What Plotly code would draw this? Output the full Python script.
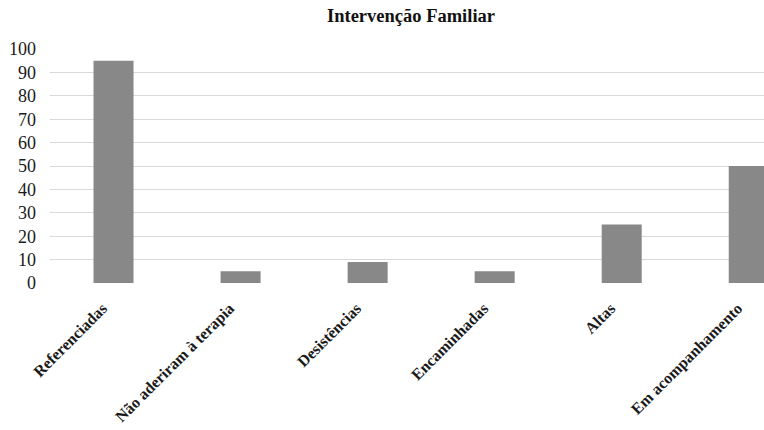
import plotly.graph_objects as go

categories = ["Referenciadas", "Não aderiram à terapia", "Desistências",
              "Encaminhadas", "Altas", "Em acompanhamento"]
values = [95, 5, 9, 5, 25, 50]
y_ticks = [0, 10, 20, 30, 40, 50, 60, 70, 80, 90, 100]

SERIF = "Liberation Serif, Times New Roman, Tinos, DejaVu Serif, serif"

fig = go.Figure(go.Bar(
    x=list(range(len(categories))),
    y=values,
    marker=dict(color="#888888", line=dict(width=0)),
    width=0.315,
))

fig.update_layout(
    width=764, height=430,
    margin=dict(l=50, r=0, t=49, b=147),
    paper_bgcolor="white", plot_bgcolor="white",
    showlegend=False,
    font=dict(family=SERIF, color="#1a1a1a"),
    annotations=[dict(
        text="<b>Intervenção Familiar</b>", x=0.506, y=1, xref="paper", yref="paper",
        yanchor="middle", xanchor="center", yshift=33, showarrow=False,
        font=dict(family=SERIF, size=18.5, color="#111111"),
    )],
)
fig.update_xaxes(
    range=[-0.5, 5.12],
    tickmode="array", tickvals=list(range(len(categories))),
    ticktext=[f"<b>{c}</b>" for c in categories],
    tickangle=-45, tickfont=dict(size=16, family=SERIF, color="#1a1a1a"),
    showgrid=False, zeroline=False, showline=False, ticks="",
    automargin=False, ticklabelstandoff=12, ticklabelshift=-11,
)
fig.update_yaxes(
    range=[0, 100], tickmode="array", tickvals=y_ticks,
    tickfont=dict(size=18, family=SERIF, color="#1a1a1a"),
    showgrid=True, gridcolor="#d9d9d9", gridwidth=1, zeroline=False,
    showline=False, ticks="", ticklabelstandoff=13, automargin=False,
)

fig.write_html("out.html", config={"displayModeBar": False},
               post_script="document.body.style.margin='0';")
